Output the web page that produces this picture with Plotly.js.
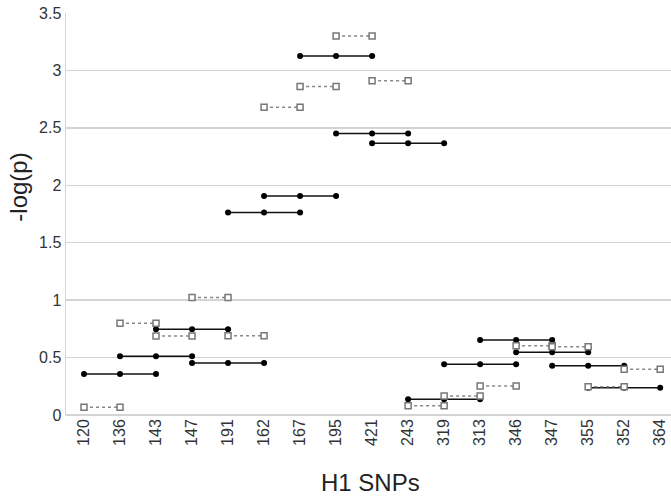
<!DOCTYPE html>
<html>
<head>
<meta charset="utf-8">
<script src="https://cdn.plot.ly/plotly-3.0.1.min.js"></script>
<style>html,body{margin:0;padding:0;background:#fff;}#chart{width:671px;height:497px;}</style>
</head>
<body>
<div id="chart"></div>
<script>
const snps = ['120','136','143','147','191','162','167','195','421','243','319','313','346','347','355','352','364'];

// three-SNP haplotypes (solid black)
const solidSNPs = [
  ['120','136','143'], ['136','143','147'], ['143','147','191'], ['147','191','162'],
  ['191','162','167'], ['162','167','195'], ['167','195','421'], ['195','421','243'],
  ['421','243','319'], ['243','319','313'], ['319','313','346'], ['313','346','347'],
  ['346','347','355'], ['347','355','352'], ['355','352','364']
];
const solidValues = [0.357, 0.511, 0.746, 0.453, 1.764, 1.906, 3.125, 2.45, 2.365, 0.137, 0.441, 0.653, 0.546, 0.429, 0.238];

// two-SNP haplotypes (dotted grey, open markers)
const openSNPs = [
  ['120','136'], ['136','143'], ['143','147'], ['147','191'], ['191','162'], ['162','167'],
  ['167','195'], ['195','421'], ['421','243'], ['243','319'], ['319','313'], ['313','346'],
  ['346','347'], ['347','355'], ['355','352'], ['352','364']
];
const openValues = [0.067, 0.798, 0.688, 1.024, 0.69, 2.68, 2.86, 3.30, 2.91, 0.08, 0.165, 0.252, 0.603, 0.595, 0.245, 0.398];

const yTickVals = [0, 0.5, 1, 1.5, 2, 2.5, 3, 3.5];
const yTickText = ['0', '0.5', '1', '1.5', '2', '2.5', '3', '3.5'];
const xTitle = 'H1 SNPs';
const yTitle = '-log(p)';

const traces = [];
solidSNPs.forEach((s, i) => {
  traces.push({
    type: 'scatter', mode: 'lines+markers',
    x: s, y: s.map(() => solidValues[i]),
    line: {color: '#111', width: 1.5},
    marker: {color: '#000', size: 6, symbol: 'circle'},
    showlegend: false, hoverinfo: 'x+y'
  });
});
openSNPs.forEach((s, i) => {
  traces.push({
    type: 'scatter', mode: 'lines+markers',
    x: s, y: s.map(() => openValues[i]),
    line: {color: '#888', width: 1.5, dash: 'dot'},
    marker: {color: '#fff', size: 6, symbol: 'square', line: {color: '#777', width: 1.5}},
    showlegend: false, hoverinfo: 'x+y'
  });
});

const layout = {
  width: 671, height: 497,
  margin: {l: 66, r: 0, t: 13, b: 82},
  paper_bgcolor: '#fff', plot_bgcolor: '#fff',
  font: {family: 'Liberation Sans, Arial, sans-serif', color: '#333'},
  xaxis: {
    type: 'category', categoryorder: 'array', categoryarray: snps,
    range: [-0.5, 16.3],
    showgrid: false, zeroline: false, showline: false,
    ticks: '', tickangle: -90,
    tickfont: {size: 16, color: '#333'}
  },
  yaxis: {
    range: [0, 3.5],
    tickvals: yTickVals, ticktext: yTickText,
    showgrid: true, gridcolor: '#d4d4d4', gridwidth: 1.5,
    zeroline: true, zerolinecolor: '#d4d4d4', zerolinewidth: 1.5,
    showline: true, linecolor: '#d4d4d4', linewidth: 1.5,
    ticks: '', tickfont: {size: 16, color: '#333'}
  },
  annotations: [
    {text: xTitle, xref: 'paper', yref: 'paper', x: 0.504, y: -0.167,
     xanchor: 'center', yanchor: 'middle', showarrow: false,
     font: {size: 24, color: '#222'}},
    {text: yTitle, xref: 'paper', yref: 'paper', x: -0.080, y: 0.567,
     xanchor: 'center', yanchor: 'middle', showarrow: false, textangle: -90,
     font: {size: 24, color: '#222'}}
  ]
};

Plotly.newPlot('chart', traces, layout, {displayModeBar: false, staticPlot: true});
</script>
</body>
</html>
